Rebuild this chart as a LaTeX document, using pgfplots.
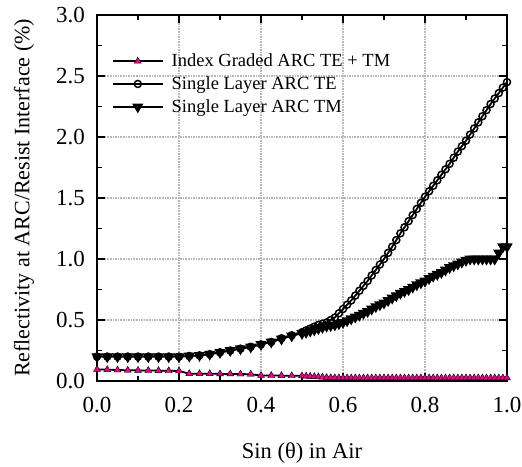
\documentclass[border=0pt]{standalone}
\usepackage{fontspec}
\setmainfont{Liberation Serif}
\usepackage{pgfplots}
\pgfplotsset{compat=1.18}
\begin{document}
\begin{tikzpicture}
\begin{axis}[
  scale only axis, width=410pt, height=366pt,
  xmin=0, xmax=1, ymin=0, ymax=3,
  xtick={0,0.2,0.4,0.6,0.8,1.0}, ytick={0,0.5,1.0,1.5,2.0,2.5,3.0},
  minor x tick num=1, minor y tick num=1,
  xtick pos=both, ytick pos=both,
  tick align=inside,
  major tick length=8pt, minor tick length=5pt,
  every tick/.style={black, line width=1.2pt},
  axis line style={line width=1.8pt},
  grid=major,
  major grid style={black!28, dash pattern=on 1.6pt off 1pt, line width=1.3pt},
  /pgf/number format/assume math mode=true,
  /pgf/number format/.cd, fixed, fixed zerofill, precision=1, /pgfplots/.cd,
  tick label style={font=\fontsize{23}{26}\selectfont, inner sep=0pt},
  xticklabel style={anchor=north, yshift=-16pt},
  yticklabel style={anchor=east, xshift=-12pt},
  xlabel={\fontsize{22.5}{25}\selectfont Sin (θ) in Air},
  ylabel={\fontsize{22}{25}\selectfont Reflectivity at ARC/Resist Interface (\%)},
  xlabel style={at={(0.5,-0.196)}, anchor=center},
  ylabel style={at={(-0.178,0.5)}, anchor=center},
  legend style={at={(0.028,0.905)}, anchor=north west, draw=none, fill=none,
     font=\fontsize{18.5}{21}\selectfont, row sep=4.5pt},
  legend cell align=left,
  legend image code/.code={\draw[line width=2.2pt, black] (0pt,0pt) -- (50pt,0pt); \draw plot coordinates {(25pt,0pt)}; \path (56pt,0pt);},
]
\addplot[black, line width=1.8pt, mark=triangle*, mark size=4pt,
  mark options={fill=magenta, draw=black, line width=0.4pt}] coordinates {
(0,0.095)(0.025,0.093)(0.05,0.09)(0.075,0.088)(0.1,0.087)(0.125,0.086)(0.15,0.085)(0.175,0.084)(0.2,0.082)
(0.225,0.06)(0.25,0.06)(0.275,0.06)(0.3,0.058)(0.325,0.058)(0.35,0.057)(0.375,0.055)
(0.4,0.045)(0.425,0.045)(0.45,0.044)(0.475,0.043)
(0.50,0.042)(0.51,0.04)(0.52,0.038)(0.53,0.036)(0.54,0.034)(0.55,0.032)(0.56,0.028)(0.57,0.027)(0.58,0.026)(0.59,0.026)
(0.60,0.025)(0.61,0.025)(0.62,0.025)(0.63,0.025)(0.64,0.025)(0.65,0.025)(0.66,0.025)(0.67,0.025)(0.68,0.025)(0.69,0.025)
(0.70,0.025)(0.71,0.025)(0.72,0.025)(0.73,0.025)(0.74,0.025)(0.75,0.025)(0.76,0.025)(0.77,0.025)(0.78,0.025)(0.79,0.025)
(0.80,0.025)(0.81,0.025)(0.82,0.025)(0.83,0.025)(0.84,0.025)(0.85,0.025)(0.86,0.025)(0.87,0.025)(0.88,0.025)(0.89,0.025)
(0.90,0.025)(0.91,0.025)(0.92,0.025)(0.93,0.025)(0.94,0.025)(0.95,0.025)(0.96,0.025)(0.97,0.025)(0.98,0.025)(0.99,0.025)(1.00,0.025)
};
\addlegendentry{Index Graded ARC TE + TM}
\addplot[black, line width=1.8pt, mark=o, mark size=3.5pt,
  mark options={fill=white, draw=black, line width=1.5pt}] coordinates {
(0,0.20)(0.025,0.20)(0.05,0.20)(0.075,0.20)(0.1,0.20)(0.125,0.20)(0.15,0.20)(0.175,0.20)(0.2,0.20)
(0.225,0.205)(0.25,0.21)(0.275,0.22)(0.3,0.235)(0.325,0.25)(0.35,0.265)(0.375,0.28)(0.4,0.30)(0.425,0.32)(0.45,0.35)(0.475,0.375)
(0.50,0.40)(0.51,0.415)(0.52,0.43)(0.53,0.445)(0.54,0.46)(0.55,0.47)(0.56,0.48)(0.57,0.50)(0.58,0.52)(0.59,0.555)
(0.60,0.59)(0.61,0.625)(0.62,0.66)(0.63,0.70)(0.64,0.74)(0.65,0.78)(0.66,0.82)(0.67,0.865)(0.68,0.91)(0.69,0.955)
(0.70,1.00)(0.71,1.05)(0.72,1.10)(0.73,1.155)(0.74,1.21)(0.75,1.26)(0.76,1.31)(0.77,1.36)(0.78,1.41)(0.79,1.46)
(0.80,1.51)(0.81,1.555)(0.82,1.60)(0.83,1.645)(0.84,1.69)(0.85,1.735)(0.86,1.78)(0.87,1.83)(0.88,1.88)(0.89,1.925)
(0.90,1.97)(0.91,2.02)(0.92,2.07)(0.93,2.12)(0.94,2.17)(0.95,2.22)(0.96,2.27)(0.97,2.315)(0.98,2.36)(0.99,2.405)(1.00,2.45)
};
\addlegendentry{Single Layer ARC TE}
\addplot[black, line width=1.8pt, mark=triangle*, mark size=4.8pt,
  mark options={fill=black, draw=black, rotate=180}] coordinates {
(0,0.20)(0.025,0.20)(0.05,0.20)(0.075,0.20)(0.1,0.20)(0.125,0.20)(0.15,0.20)(0.175,0.20)(0.2,0.20)
(0.225,0.205)(0.25,0.21)(0.275,0.22)(0.3,0.235)(0.325,0.25)(0.35,0.265)(0.375,0.28)(0.4,0.30)(0.425,0.32)(0.45,0.345)(0.475,0.37)
(0.50,0.39)(0.51,0.40)(0.52,0.41)(0.53,0.42)(0.54,0.43)(0.55,0.44)(0.56,0.45)(0.57,0.455)(0.58,0.46)(0.59,0.47)
(0.60,0.48)(0.61,0.495)(0.62,0.51)(0.63,0.525)(0.64,0.54)(0.65,0.555)(0.66,0.57)(0.67,0.59)(0.68,0.61)(0.69,0.625)
(0.70,0.64)(0.71,0.66)(0.72,0.68)(0.73,0.70)(0.74,0.72)(0.75,0.735)(0.76,0.75)(0.77,0.77)(0.78,0.79)(0.79,0.805)
(0.80,0.82)(0.81,0.84)(0.82,0.86)(0.83,0.875)(0.84,0.89)(0.85,0.91)(0.86,0.93)(0.87,0.945)(0.88,0.96)(0.89,0.975)
(0.90,0.99)(0.91,1.00)(0.92,1.00)(0.93,1.00)(0.94,1.00)(0.95,1.00)(0.96,1.00)(0.97,1.00)(0.98,1.05)(0.99,1.10)(1.00,1.10)
};
\addlegendentry{Single Layer ARC TM}
\end{axis}
\path (current axis.south west) ++(-97pt,-80pt);
\path (current axis.north east) ++(15pt,15pt);
\end{tikzpicture}
\end{document}
